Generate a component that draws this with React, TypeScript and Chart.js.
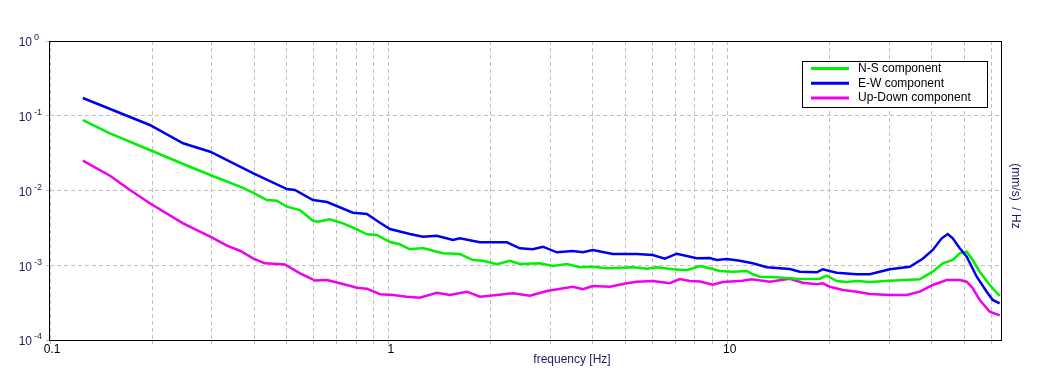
import React, { useEffect, useRef } from "react";
import { Chart, registerables } from "chart.js";

Chart.register(...registerables);

// ---- data ----
const nsFreq = [0.125, 0.1503, 0.197, 0.247, 0.297, 0.3636, 0.397, 0.4366, 0.4673, 0.5, 0.5464, 0.597, 0.6173, 0.6699, 0.7318, 0.8046, 0.861, 0.9218, 1.007, 1.077, 1.153, 1.26, 1.385, 1.443, 1.62, 1.769, 1.894, 2.083, 2.275, 2.434, 2.789, 3.046, 3.35, 3.66, 3.996, 4.397, 5.246, 5.77, 6.174, 6.884, 7.57, 8.27, 8.85, 9.47, 10.34, 11.38, 11.85, 12.43, 13.95, 16.31, 18.68, 19.59, 20.96, 22.44, 24.02, 26.24, 30.06, 36.85, 40.25, 43.07, 46.11, 48.36, 50.7, 52.81, 55.39, 59.29, 63.43];
const nsValues = [0.0877, 0.0582, 0.0348, 0.02262, 0.01612, 0.01124, 0.00935, 0.00746, 0.0073, 0.00607, 0.00548, 0.00394, 0.003825, 0.00412, 0.00364, 0.003027, 0.002594, 0.00254, 0.002047, 0.001907, 0.001634, 0.0017, 0.001518, 0.001445, 0.001414, 0.001175, 0.00115, 0.00103, 0.00115, 0.001039, 0.001062, 0.000977, 0.001039, 0.000939, 0.000956, 0.00091, 0.000939, 0.000899, 0.000939, 0.000883, 0.000856, 0.000977, 0.00091, 0.000838, 0.00082, 0.000838, 0.000757, 0.000703, 0.00069, 0.000655, 0.00066, 0.000725, 0.000616, 0.000597, 0.000616, 0.000597, 0.000621, 0.000649, 0.00082, 0.001062, 0.001175, 0.001445, 0.001518, 0.001175, 0.00082, 0.000544, 0.000388];

const ewFreq = [0.125, 0.197, 0.247, 0.297, 0.397, 0.5, 0.528, 0.597, 0.657, 0.783, 0.861, 0.941, 1.007, 1.153, 1.26, 1.385, 1.545, 1.62, 1.855, 2.229, 2.434, 2.659, 2.847, 3.131, 3.489, 3.735, 3.996, 4.58, 5.389, 6.009, 6.52, 7.072, 8.1, 8.85, 9.28, 9.93, 10.85, 11.85, 13.03, 15.24, 16.31, 18.3, 19.06, 20.96, 24.02, 26.24, 28.08, 30.06, 34.43, 37.6, 40.25, 42.79, 44.57, 46.11, 48.36, 50.7, 54.27, 58.08, 60.5, 63.43];
const ewValues = [0.1728, 0.0752, 0.0428, 0.033, 0.01714, 0.01047, 0.01016, 0.00746, 0.00702, 0.00505, 0.00485, 0.00371, 0.00305, 0.00262, 0.00241, 0.002485, 0.002177, 0.002294, 0.002028, 0.002028, 0.001686, 0.001634, 0.00177, 0.00149, 0.00155, 0.00149, 0.0016, 0.001414, 0.001414, 0.001371, 0.001224, 0.001427, 0.001239, 0.00125, 0.001176, 0.001213, 0.00115, 0.001062, 0.000939, 0.000891, 0.00082, 0.000804, 0.000883, 0.000795, 0.000757, 0.000757, 0.00082, 0.000883, 0.000956, 0.001224, 0.0016, 0.002294, 0.00262, 0.002294, 0.001686, 0.001301, 0.000703, 0.000443, 0.000343, 0.00031];

const udFreq = [0.125, 0.1503, 0.1722, 0.197, 0.247, 0.297, 0.3328, 0.3636, 0.397, 0.4307, 0.4934, 0.5464, 0.5729, 0.605, 0.6565, 0.7171, 0.8046, 0.861, 0.941, 1.028, 1.13, 1.234, 1.385, 1.514, 1.699, 1.855, 2.083, 2.322, 2.606, 2.925, 3.489, 3.735, 3.996, 4.487, 5.036, 5.389, 6.009, 6.745, 7.218, 7.725, 8.27, 9.03, 9.667, 11.07, 11.77, 13.3, 15.24, 16.64, 18.3, 19.06, 20.0, 21.84, 24.02, 26.24, 30.06, 33.73, 36.85, 40.25, 44.26, 48.36, 50.7, 52.81, 55.39, 59.29, 63.43];
const udValues = [0.02505, 0.01578, 0.01016, 0.00674, 0.00364, 0.00241, 0.001826, 0.001565, 0.001239, 0.001062, 0.001023, 0.00078, 0.000703, 0.000625, 0.000635, 0.000574, 0.000501, 0.000486, 0.00041, 0.0004, 0.00038, 0.000368, 0.000429, 0.0004, 0.000443, 0.00038, 0.0004, 0.000421, 0.000391, 0.000452, 0.000516, 0.000477, 0.000528, 0.000516, 0.000574, 0.000602, 0.000616, 0.000574, 0.000655, 0.000616, 0.000606, 0.000549, 0.000597, 0.000621, 0.000649, 0.000602, 0.000661, 0.000584, 0.000556, 0.000574, 0.000516, 0.000467, 0.000443, 0.000412, 0.0004, 0.0004, 0.000443, 0.000544, 0.000635, 0.000635, 0.000602, 0.000492, 0.000343, 0.000239, 0.000213];

const seriesLabels = ["N-S component", "E-W component", "Up-Down component"];
const xGridValues = [0.1, 0.2, 0.3, 0.4, 0.5, 0.6, 0.7, 0.8, 0.9, 1, 2, 3, 4, 5, 6, 7, 8, 9, 10, 20, 30, 40, 50, 60];
const xTickLabels = ["0.1", "1", "10"];
const yExponents = [0, -1, -2, -3, -4];
const xTitle = "frequency [Hz]";
const yTitle = "(mm/s)  / Hz";

const COLORS = ["#00f000", "#0000f0", "#f000f0"];
const LABEL_COLOR = "#1c1c5c";

const pairs = (f: number[], v: number[]) => f.map((x, i) => ({ x, y: v[i] }));

const textPlugin = {
  id: "customText",
  afterDraw(chart: any) {
    const ctx = chart.ctx as CanvasRenderingContext2D;
    const { left, right, top, bottom } = chart.chartArea;
    const xs = chart.scales.x;
    const ys = chart.scales.y;
    ctx.save();
    // plot frame
    ctx.strokeStyle = "#000";
    ctx.lineWidth = 1;
    ctx.setLineDash([]);
    ctx.strokeRect(left - 0.5, top + 0.5, right - left + 1, bottom - top);

    // y tick labels 10^n
    ctx.fillStyle = LABEL_COLOR;
    yExponents.forEach((e) => {
      const y = ys.getPixelForValue(Math.pow(10, e));
      ctx.font = "12px Arial";
      ctx.textAlign = "right";
      ctx.textBaseline = "middle";
      ctx.fillText("10", 32, y + 2);
      ctx.font = "9px Arial";
      ctx.textAlign = "left";
      ctx.fillText(String(e), 34, y - 3);
    });

    // x tick labels
    ctx.fillStyle = "#000";
    ctx.font = "12px Arial";
    ctx.textAlign = "center";
    ctx.textBaseline = "middle";
    xTickLabels.forEach((t) => {
      const x = xs.getPixelForValue(parseFloat(t));
      ctx.fillText(t, x + 2, 350);
    });

    // x title
    ctx.fillStyle = LABEL_COLOR;
    ctx.fillText(xTitle, 572, 360);

    // right y title
    ctx.save();
    ctx.translate(1015, 196);
    ctx.rotate(Math.PI / 2);
    ctx.textAlign = "center";
    ctx.textBaseline = "middle";
    ctx.fillStyle = LABEL_COLOR;
    ctx.fillText(yTitle, 0, 0);
    ctx.restore();

    // legend
    const lx = 802, ly = 61, lw = 185, lh = 46;
    ctx.fillStyle = "#fff";
    ctx.fillRect(lx, ly, lw, lh);
    ctx.strokeStyle = "#000";
    ctx.lineWidth = 1;
    ctx.strokeRect(lx + 0.5, ly + 0.5, lw, lh);
    seriesLabels.forEach((lab, i) => {
      const y = 68.5 + i * 14.8;
      ctx.strokeStyle = COLORS[i];
      ctx.lineWidth = 3;
      ctx.beginPath();
      ctx.moveTo(811, y);
      ctx.lineTo(849, y);
      ctx.stroke();
      ctx.fillStyle = "#000";
      ctx.font = "12px Arial";
      ctx.textAlign = "left";
      ctx.textBaseline = "middle";
      ctx.fillText(lab, 858, y);
    });
    ctx.restore();
  },
};

export default function App() {
  const ref = useRef<HTMLCanvasElement>(null);
  useEffect(() => {
    if (!ref.current) return;
    const chart = new Chart(ref.current, {
      type: "line",
      data: {
        datasets: [
          { label: seriesLabels[0], data: pairs(nsFreq, nsValues), borderColor: COLORS[0], order: 2 },
          { label: seriesLabels[1], data: pairs(ewFreq, ewValues), borderColor: COLORS[1], order: 1 },
          { label: seriesLabels[2], data: pairs(udFreq, udValues), borderColor: COLORS[2], order: 3 },
        ].map((d) => ({ ...d, borderWidth: 2.5, pointRadius: 0, tension: 0, fill: false })),
      },
      options: {
        animation: false,
        responsive: true,
        maintainAspectRatio: false,
        layout: { padding: { top: 41, right: 50, left: 0, bottom: 0 } },
        plugins: { legend: { display: false }, tooltip: { enabled: false } },
        scales: {
          x: {
            type: "logarithmic",
            min: 0.1,
            max: 64,
            afterBuildTicks: (s: any) => {
              s.ticks = xGridValues.map((v) => ({ value: v }));
            },
            afterFit: (s: any) => {
              s.height = 42;
            },
            ticks: { display: false },
            grid: { color: "#c0c0c0", lineWidth: 1, tickLength: 4, drawTicks: true },
            border: { display: false, dash: [4, 3] },
          },
          y: {
            type: "logarithmic",
            min: 0.0001,
            max: 1,
            afterBuildTicks: (s: any) => {
              s.ticks = yExponents.map((e) => ({ value: Math.pow(10, e) }));
            },
            afterFit: (s: any) => {
              s.width = 50;
            },
            ticks: { display: false },
            grid: { color: "#c0c0c0", lineWidth: 1, tickLength: 4, drawTicks: true },
            border: { display: false, dash: [4, 3] },
          },
        },
      },
      plugins: [textPlugin],
    });
    return () => chart.destroy();
  }, []);
  return (
    <div style={{ position: "fixed", left: 0, top: 0, width: 1051, height: 382, background: "#fff" }}>
      <canvas ref={ref} />
    </div>
  );
}
